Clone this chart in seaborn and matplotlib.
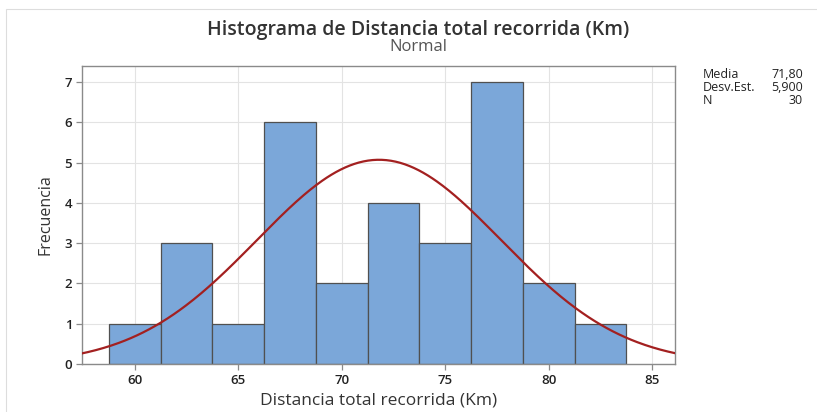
import numpy as np
import pandas as pd
import seaborn as sns
import matplotlib
matplotlib.use("Agg")
import matplotlib.pyplot as plt
from matplotlib.patches import Rectangle

# Bin edges (Km) and counts per bin
bin_edges = [58.75, 61.25, 63.75, 66.25, 68.75, 71.25, 73.75, 76.25, 78.75, 81.25, 83.75]
counts = [1, 3, 1, 6, 2, 4, 3, 7, 2, 1]
media = 71.80
desv_est = 5.900
n_obs = 30
x_ticks = [60, 65, 70, 75, 80, 85]
y_ticks = [0, 1, 2, 3, 4, 5, 6, 7]

sns.set_theme(style="white")
plt.rcParams["font.family"] = ["Open Sans", "DejaVu Sans"]

centers = [(a + b) / 2 for a, b in zip(bin_edges[:-1], bin_edges[1:])]
df = pd.DataFrame({"dist": centers, "freq": counts})

fig = plt.figure(figsize=(8.17, 4.12), dpi=100)
ax = fig.add_axes([82 / 817, 1 - 364 / 412, (675 - 82) / 817, (364 - 66) / 412])

sns.histplot(data=df, x="dist", weights="freq", bins=bin_edges, ax=ax,
             color="#7BA7D9", edgecolor="#505050", linewidth=0.9, alpha=1, zorder=2)

# Fitted normal curve scaled to counts
bw = bin_edges[1] - bin_edges[0]
xs = np.linspace(57.0, 86.5, 400)
ys = n_obs * bw * np.exp(-0.5 * ((xs - media) / desv_est) ** 2) / (desv_est * np.sqrt(2 * np.pi))
sns.lineplot(x=xs, y=ys, ax=ax, color="#A32020", linewidth=1.6, zorder=3)

ax.set_xlim(57.45, 86.1)
ax.set_ylim(0, 7.4)
ax.set_xticks(x_ticks)
ax.set_yticks(y_ticks)
ax.grid(True, color="#e3e3e3", linewidth=0.8, zorder=0)
ax.set_axisbelow(True)
for s in ax.spines.values():
    s.set_color("#8a8a8a")
    s.set_linewidth(1.0)
ax.tick_params(axis="both", which="both", direction="out", length=4, width=0.9,
               color="#8a8a8a", labelsize=9.5, labelcolor="#222222", pad=3,
               bottom=True, left=True)
for lab in ax.get_xticklabels() + ax.get_yticklabels():
    lab.set_fontweight("semibold")

ax.set_xlabel("Distancia total recorrida (Km)", fontsize=12.5, color="#333333", labelpad=4)
ax.set_ylabel("Frecuencia", fontsize=11.5, color="#333333", labelpad=8)

fig.text(418 / 817, 1 - 30 / 412, "Histograma de Distancia total recorrida (Km)",
         ha="center", va="center", fontsize=14, fontweight="semibold", color="#333333")
fig.text(418 / 817, 1 - 47 / 412, "Normal", ha="center", va="center",
         fontsize=12, color="#555555")

# Summary statistics panel
stats = [("Media", "71,80"), ("Desv.Est.", "5,900"), ("N", "30")]
for i, (k, v) in enumerate(stats):
    y = 1 - (75 + i * 12.5) / 412
    fig.text(703 / 817, y, k, ha="left", va="center", fontsize=9, color="#222222")
    fig.text(803 / 817, y, v, ha="right", va="center", fontsize=9, color="#222222")

# Light frame around the graph area
fig.patches.append(Rectangle((6 / 817, -0.1), 1.2, 1 - 9 / 412 + 0.1,
                             transform=fig.transFigure, fill=False,
                             edgecolor="#dddddd", linewidth=0.8))

fig.savefig("out.png", dpi=100)
